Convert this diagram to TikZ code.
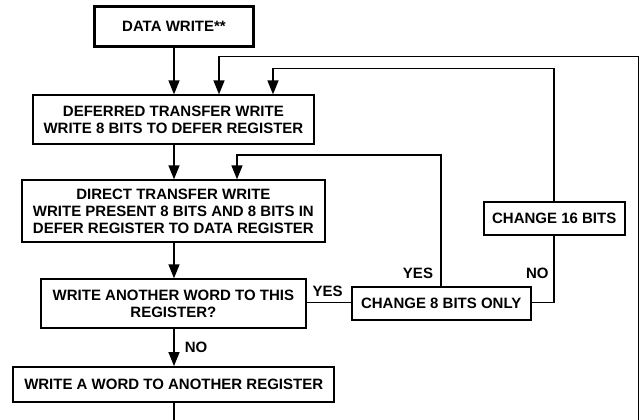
\documentclass[tikz,border=0pt]{standalone}
\usepackage{fontspec}
\setmainfont{Liberation Sans}
\usetikzlibrary{arrows.meta}
\begin{document}
\begin{tikzpicture}[x=1pt,y=-1pt,
  box/.style={draw=black,line width=2pt,rectangle,inner sep=0pt,align=center,
    font=\fontsize{15}{16.7}\selectfont\bfseries},
  lbl/.style={inner sep=0pt,font=\fontsize{15}{16.7}\selectfont\bfseries},
  conn/.style={line width=1.5pt},
  arr/.style={conn,-{Triangle[width=11pt,length=14pt]}}]
\useasboundingbox (0,0) rectangle (641,420);
\node[box,line width=3pt,minimum width=159pt,minimum height=40pt] (dw) at (174,26.4) {DATA WRITE**};
\node[box,minimum width=281pt,minimum height=48.7pt] (def) at (173.4,119.7) {DEFERRED TRANSFER WRITE\\WRITE 8 BITS TO DEFER REGISTER};
\node[box,minimum width=303pt,minimum height=62pt] (dir) at (173.4,211.3) {DIRECT TRANSFER WRITE\\WRITE PRESENT 8 BITS AND 8 BITS IN\\DEFER REGISTER TO DATA REGISTER};
\node[box,minimum width=265pt,minimum height=49pt] (q) at (173.4,303.8) {WRITE ANOTHER WORD TO THIS\\REGISTER?};
\node[box,minimum width=321pt,minimum height=35.3pt] (wa) at (173.7,384.7) {WRITE A WORD TO ANOTHER REGISTER};
\node[box,minimum width=179pt,minimum height=33pt] (c8) at (441.2,303.5) {CHANGE 8 BITS ONLY};
\node[box,minimum width=141pt,minimum height=33.3pt] (c16) at (554.2,218.3) {CHANGE 16 BITS};
% labels
\node[lbl] (yes1) at (327.7,291.3) {YES};
\node[lbl] (yes2) at (418,273.5) {YES};
\node[lbl] (no1) at (196,347) {NO};
\node[lbl] (no2) at (537.3,273.6) {NO};
% coordinates
\coordinate (rb) at (638.3,420);
\coordinate (rt) at (638.3,56.7);
\coordinate (a2) at (219,56.7);
\coordinate (m16) at (554.2,68.3);
\coordinate (a3) at (273,68.3);
\coordinate (m8) at (441.2,155);
\coordinate (a4) at (237,155);
\coordinate (c8r) at (554.2,302.7);
\coordinate (wb) at (174,420);
% connectors
\draw[arr] (dw.south -| 174,0) -- (def.north -| 174,0);
\draw[arr] (rb) -- (rt) -- (a2) -- (def.north -| a2);
\draw[arr] (c16.north) -- (m16) -- (a3) -- (def.north -| a3);
\draw[arr] (def.south -| 174,0) -- (dir.north -| 174,0);
\draw[arr] (c8.north) -- (m8) -- (a4) -- (dir.north -| a4);
\draw[arr] (dir.south -| 174,0) -- (q.north -| 174,0);
\draw[conn] (q.east |- 0,302.7) -- (c8.west |- 0,302.7);
\draw[conn] (c8.east |- c8r) -- (c8r) -- (c16.south);
\draw[arr] (q.south -| 174,0) -- (wa.north -| 174,0);
\draw[conn] (wa.south -| wb) -- (wb);
\end{tikzpicture}
\end{document}
